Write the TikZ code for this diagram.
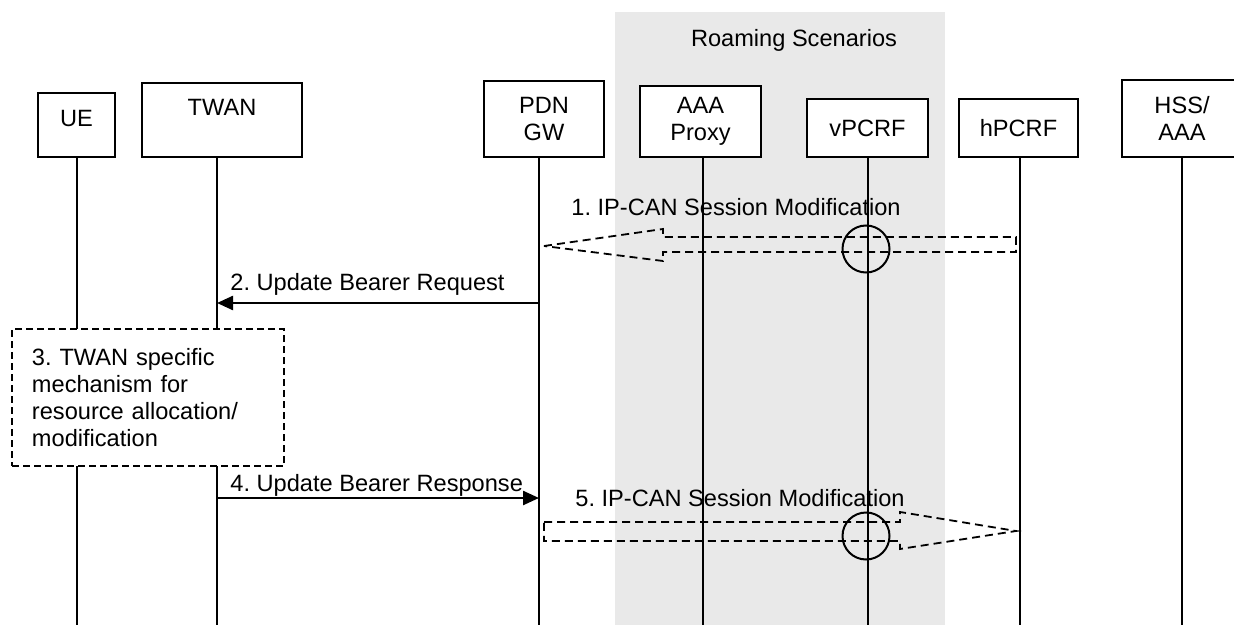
\documentclass[tikz,border=0pt]{standalone}
\usepackage{fontspec}
\setmainfont{Liberation Sans}
\usetikzlibrary{arrows.meta}
\definecolor{roam}{RGB}{233,233,233}
\frenchspacing
\begin{document}
\begin{tikzpicture}[x=0.5pt,y=-0.5pt,
  font=\fontsize{11.8pt}{13.5pt}\selectfont,
  box/.style={draw, line width=1pt, fill=white, inner sep=0pt, align=center},
  sbox/.style={draw, line width=1pt, fill=white, inner sep=0pt},
  life/.style={line width=1pt},
  msg/.style={line width=1.2pt, -{Triangle[length=8pt,width=7pt]}},
  blk/.style={line width=0.9pt, dash pattern=on 4pt off 2.5pt},
  ring/.style={line width=1pt},
  lbl/.style={inner sep=0pt, anchor=base west}]
\clip (0,0) rectangle (1234,625);
\fill[roam] (615,12) rectangle (945,625);
\node[inner sep=0pt] (roamlbl) at (794,40) {Roaming Scenarios};
% header boxes
\node[sbox, minimum width=38.5pt, minimum height=32pt, text depth=7pt] (ue) at (76.5,125) {UE};
\node[sbox, minimum width=80pt, minimum height=37pt, text depth=13pt] (twan) at (222,120) {TWAN};
\node[box, minimum width=60pt, minimum height=38pt] (pdn) at (544,119) {PDN\\GW};
\node[box, minimum width=60.5pt, minimum height=35.5pt] (aaa) at (700.5,121.5) {AAA\\Proxy};
\node[box, minimum width=60.5pt, minimum height=29pt] (vpcrf) at (867.5,128) {vPCRF};
\node[box, minimum width=59.5pt, minimum height=29pt] (hpcrf) at (1018.5,128) {hPCRF};
\node[box, minimum width=60pt, minimum height=38.5pt] (hss) at (1182,118.5) {HSS/\\AAA};
% lifeline tops
\coordinate (bot) at (0,625);
\coordinate (tue) at (ue.south);
\coordinate (ttwan) at ([xshift=-2.5pt]twan.south);
\coordinate (tpdn) at ([xshift=-2.5pt]pdn.south);
\coordinate (taaa) at ([xshift=1.25pt]aaa.south);
\coordinate (tvpcrf) at (vpcrf.south);
\coordinate (thpcrf) at ([xshift=0.75pt]hpcrf.south);
\coordinate (thss) at (hss.south);
\foreach \n in {tue,ttwan,tpdn,taaa,tvpcrf,thpcrf,thss}
  \draw[life] (\n) -- (\n |- bot);
% 1. IP-CAN Session Modification (block arrow, left)
\node[lbl] (l1) at (571,216) {1. IP-CAN Session Modification};
\draw[blk] (544,246) -- (663,229) -- (663,237) -- (1016,237) -- (1016,252) -- (663,252) -- (663,261) -- cycle;
\draw[ring] (866,249) circle[radius=11.75pt];
% 2. Update Bearer Request
\coordinate (m2a) at (tpdn |- 0,303);
\coordinate (m2b) at (ttwan |- 0,303);
\draw[msg] (m2a) -- (m2b);
\node[lbl] (l2) at (230,291) {2. Update Bearer Request};
% 3. TWAN specific
\node[draw, line width=1pt, dash pattern=on 3.5pt off 2pt, fill=white,
  minimum width=136pt, minimum height=68.5pt, text width=116pt, inner xsep=10pt,
  align=left] (s3) at (148,397.5)
  {3. TWAN specific\\mechanism for\\resource allocation/\\modification};
% 4. Update Bearer Response
\coordinate (m4a) at (ttwan |- 0,498);
\coordinate (m4b) at (tpdn |- 0,498);
\draw[msg] (m4a) -- (m4b);
\node[lbl] (l4) at (230,491) {4. Update Bearer Response};
% 5. IP-CAN Session Modification (block arrow, right)
\node[lbl] (l5) at (575,506) {5. IP-CAN Session Modification};
\draw[blk] (544,522) -- (900,522) -- (900,512) -- (1016,531) -- (900,549) -- (900,541) -- (544,541) -- cycle;
\draw[ring] (866,536) circle[radius=11.75pt];
\end{tikzpicture}
\end{document}
